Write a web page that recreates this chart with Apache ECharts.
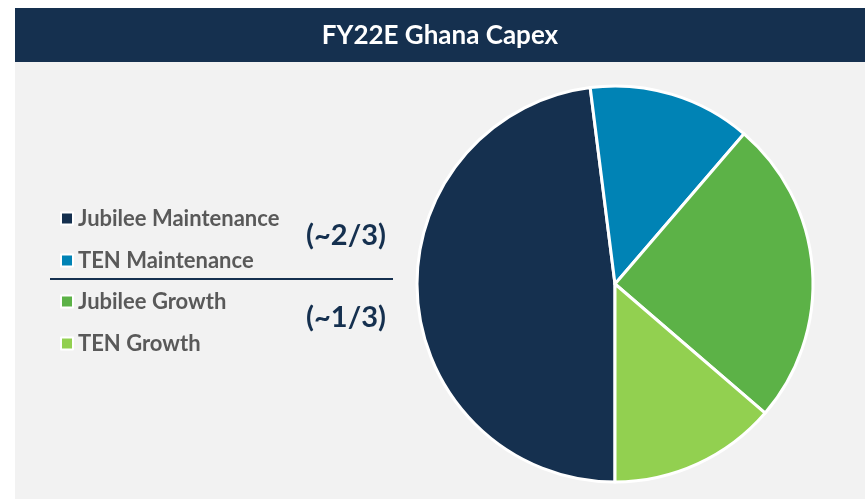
<!DOCTYPE html>
<html>
<head>
<meta charset="utf-8">
<script src="https://cdn.jsdelivr.net/npm/echarts@6/dist/echarts.min.js"></script>
<style>
html,body{margin:0;padding:0;background:#fff;}
#chart{width:865px;height:499px;}
</style>
</head>
<body>
<div id="chart"></div>
<script>
// slices, in legend order
const names = ['Jubilee Maintenance', 'TEN Maintenance', 'Jubilee Growth', 'TEN Growth'];
const values = [48, 13.3, 25, 13.7];
const colors = ['#15304f', '#0083b5', '#5cb247', '#92d050'];
const groupLabels = ['(~2/3)', '(~1/3)'];

let chart = echarts.init(document.getElementById('chart'));

const legendText = { color: '#595959', fontSize: 22, fontWeight: 'bold', fontFamily: 'Lato', lineHeight: 23 };

chart.setOption({
	animation: false,
	graphic: [
		{ type: 'rect', z: 0, shape: { x: 15, y: 62, width: 850, height: 437 }, style: { fill: '#f2f2f2' } },
		{ type: 'rect', z: 0, shape: { x: 15, y: 8, width: 850, height: 54 }, style: { fill: '#15304f' } },
		{ type: 'text', z: 5, x: 440, y: 36, style: { text: 'FY22E Ghana Capex', fill: '#fff', font: 'bold 26px Lato', align: 'center', verticalAlign: 'middle' } },
		{ type: 'line', z: 5, shape: { x1: 50, y1: 279, x2: 393, y2: 279 }, style: { stroke: '#15304f', lineWidth: 2 } },
		{ type: 'text', z: 5, x: 346, y: 236, style: { text: groupLabels[0], fill: '#15304f', font: 'bold 29px Lato', align: 'center', verticalAlign: 'middle' } },
		{ type: 'text', z: 5, x: 346, y: 318, style: { text: groupLabels[1], fill: '#15304f', font: 'bold 29px Lato', align: 'center', verticalAlign: 'middle' } }
	],
	legend: [
		{ data: names.slice(0, 2), orient: 'vertical', left: 60, top: 207, padding: 0, icon: 'rect', itemWidth: 12, itemHeight: 12, itemGap: 19, textStyle: legendText, selectedMode: false },
		{ data: names.slice(2), orient: 'vertical', left: 60, top: 290, padding: 0, icon: 'rect', itemWidth: 12, itemHeight: 12, itemGap: 19, textStyle: legendText, selectedMode: false }
	],
	series: [{
		type: 'pie',
		center: [615, 284],
		radius: 198,
		startAngle: 270,
		clockwise: true,
		label: { show: false },
		labelLine: { show: false },
		itemStyle: { borderColor: '#fff', borderWidth: 3 },
		emphasis: { disabled: true },
		data: names.map((n, i) => ({ name: n, value: values[i], itemStyle: { color: colors[i] } }))
	}]
});
</script>
</body>
</html>
